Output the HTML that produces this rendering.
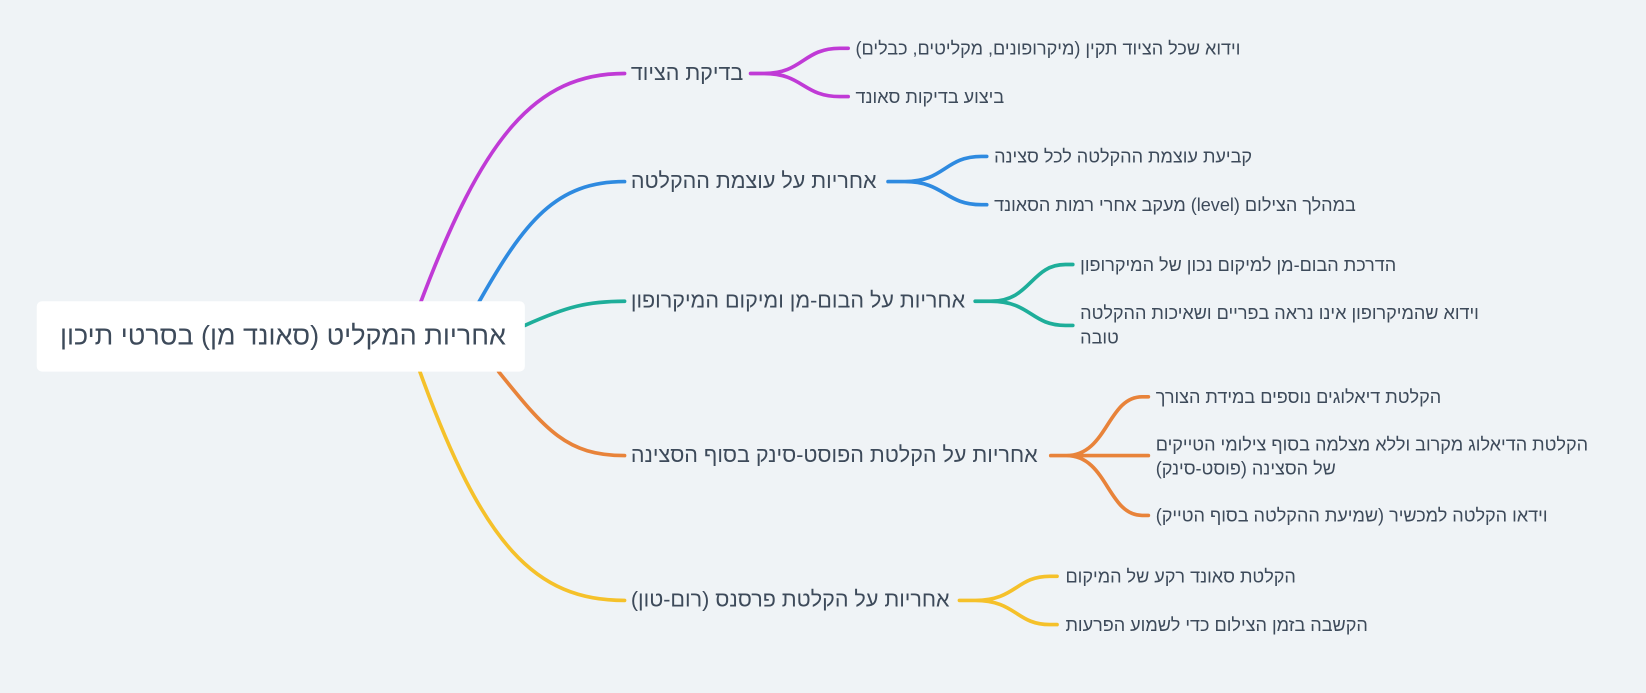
<!DOCTYPE html>
<html><head><meta charset="utf-8"><style>
html,body{margin:0;padding:0;background:#eff3f6;overflow:hidden;width:1646px;height:692px}
#c{position:absolute;left:0;top:0;width:1568px;height:660px;transform:scale(1.0497);transform-origin:0 0;font-family:"Liberation Sans","DejaVu Sans",sans-serif;color:#3d4a5a}
.t{position:absolute;white-space:nowrap;direction:rtl;line-height:23px}
.b{font-size:20.5px;line-height:24px}
.s{font-size:17.2px}
#root{position:absolute;left:35px;top:287px;width:465px;height:67px;background:#fff;border-radius:5px}
#root span{position:absolute;right:18px;top:19px;font-size:25.7px;direction:rtl;white-space:nowrap}
svg{position:absolute;left:0;top:0}
path{fill:none;stroke-width:3.5;stroke-linecap:round}
</style></head><body><div id="c">
<svg width="1568" height="660">
<g stroke="#c03ad6"><path d="M400,290 C460,130 510,70 595,70"/><path d="M715,70 L728,70 C765,70 765,46 800,46 L808,46 M728,70 C765,70 765,92 800,92 L808,92"/></g>
<g stroke="#2e8ae0"><path d="M455,290 C500,210 530,173 595,173"/><path d="M846,173 L862,173 C900,173 900,149 935,149 L940,149 M862,173 C900,173 900,195 935,195 L940,195"/></g>
<g stroke="#1eae9a"><path d="M500,310 C540,292 560,287 595,287"/><path d="M929,287 L944,287 C982,287 982,252 1015,252 L1022,252 M944,287 C982,287 982,310 1015,310 L1022,310"/></g>
<g stroke="#e8833a"><path d="M475,354 C520,410 540,434 595,434"/><path d="M1001,434 L1016,434 C1055,434 1055,378 1088,378 L1094,378 M1001,434 L1094,434 M1016,434 C1055,434 1055,491 1088,491 L1094,491"/></g>
<g stroke="#f5c12a"><path d="M400,354 C460,520 510,572 595,572"/><path d="M914,572 L929,572 C968,572 968,549 1000,549 L1007,549 M929,572 C968,572 968,595 1000,595 L1007,595"/></g>
</svg>
<div id="root"><span>אחריות המקליט (סאונד מן) בסרטי תיכון</span></div>
<div class="t b" style="left:601px;top:58px">בדיקת הציוד</div>
<div class="t s" style="left:815px;top:35px">וידוא שכל הציוד תקין (מיקרופונים, מקליטים, כבלים)</div>
<div class="t s" style="left:815px;top:81px">ביצוע בדיקות סאונד</div>
<div class="t b" style="left:601px;top:161px">אחריות על עוצמת ההקלטה</div>
<div class="t s" style="left:947px;top:138px">קביעת עוצמת ההקלטה לכל סצינה</div>
<div class="t s" style="left:947px;top:184px">במהלך הצילום (level) מעקב אחרי רמות הסאונד</div>
<div class="t b" style="left:601px;top:275px">אחריות על הבום-מן ומיקום המיקרופון</div>
<div class="t s" style="left:1029px;top:241px">הדרכת הבום-מן למיקום נכון של המיקרופון</div>
<div class="t s" style="left:1029px;top:287px;text-align:left">וידוא שהמיקרופון אינו נראה בפריים ושאיכות ההקלטה<br>טובה</div>
<div class="t b" style="left:601px;top:422px">אחריות על הקלטת הפוסט-סינק בסוף הסצינה</div>
<div class="t s" style="left:1101px;top:367px">הקלטת דיאלוגים נוספים במידת הצורך</div>
<div class="t s" style="left:1101px;top:412px;text-align:left">הקלטת הדיאלוג מקרוב וללא מצלמה בסוף צילומי הטייקים<br>של הסצינה (פוסט-סינק)</div>
<div class="t s" style="left:1101px;top:480px">וידאו הקלטה למכשיר (שמיעת ההקלטה בסוף הטייק)</div>
<div class="t b" style="left:601px;top:560px">אחריות על הקלטת פרסנס (רום-טון)</div>
<div class="t s" style="left:1015px;top:538px">הקלטת סאונד רקע של המיקום</div>
<div class="t s" style="left:1015px;top:584px">הקשבה בזמן הצילום כדי לשמוע הפרעות</div>
</div></body></html>
